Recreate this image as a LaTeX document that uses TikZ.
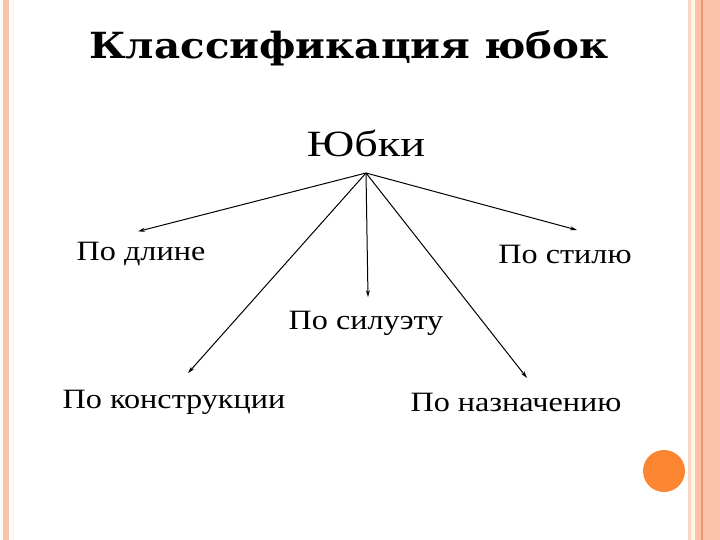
\documentclass[tikz,border=0pt]{standalone}
\usepackage{fontspec}
\usepackage{graphicx}
\setmainfont{Liberation Serif}
\newfontfamily\titlefont{DejaVu Serif}
\usetikzlibrary{arrows.meta,calc}

\definecolor{frameSalmon}{RGB}{250,195,170}
\definecolor{frameLine}{RGB}{240,150,110}
\definecolor{frameCream}{RGB}{254,246,232}
\definecolor{dotOrange}{RGB}{252,133,50}

\newcommand{\wide}[2][1.15]{\scalebox{#1}[1]{#2}}

\tikzset{
  item/.style={font=\fontsize{28}{30}\selectfont, inner sep=0pt},
  branch/.style={-{Stealth[length=7pt,width=4pt]}, line width=1pt},
}

\begin{document}
\begin{tikzpicture}[x=1pt,y=1pt,yscale=-1]
\useasboundingbox (0,0) rectangle (720,540);

%frame, left side
\fill [frameSalmon] (3,0) rectangle (9,540);
\fill [frameCream] (12,0) rectangle (14,540);
%frame, right side
\fill [frameSalmon!70] (688,0) rectangle (691,540);
\fill [frameCream] (691,0) rectangle (695,540);
\fill [frameSalmon] (695,0) rectangle (702,540);
\fill [frameLine] (701,0) rectangle (703,540);
\fill [frameSalmon] (703,0) rectangle (720,540);
%orange dot
\fill [dotOrange] (664,471) circle (21);

% title
\node (title) at (349,48) {\titlefont\bfseries\fontsize{36}{40}\selectfont\wide[1.12]{Классификация юбок}};

% root
\node [font=\fontsize{37}{40}\selectfont] (root) at (366,143) {\wide[1.25]{Юбки}};
\coordinate (apex) at (366,173);

% branches
\node [item] (dl) at (141,254) {\wide{По длине}};
\node [item] (st) at (565,254) {\wide{По стилю}};
\node [item] (si) at (366,323) {\wide{По силуэту}};
\node [item] (ko) at (174,402) {\wide{По конструкции}};
\node [item] (na) at (516,402) {\wide{По назначению}};

\draw [branch] (apex) -- ($(dl.north)+(-3,-10.5)$);
\draw [branch] (apex) -- ($(st.north)+(12,-14.5)$);
\draw [branch] (apex) -- ($(si.north)+(2,-13.5)$);
\draw [branch] (apex) -- ($(ko.north)+(14,-16.5)$);
\draw [branch] (apex) -- ($(na.north)+(11,-14.5)$);

\end{tikzpicture}
\end{document}
